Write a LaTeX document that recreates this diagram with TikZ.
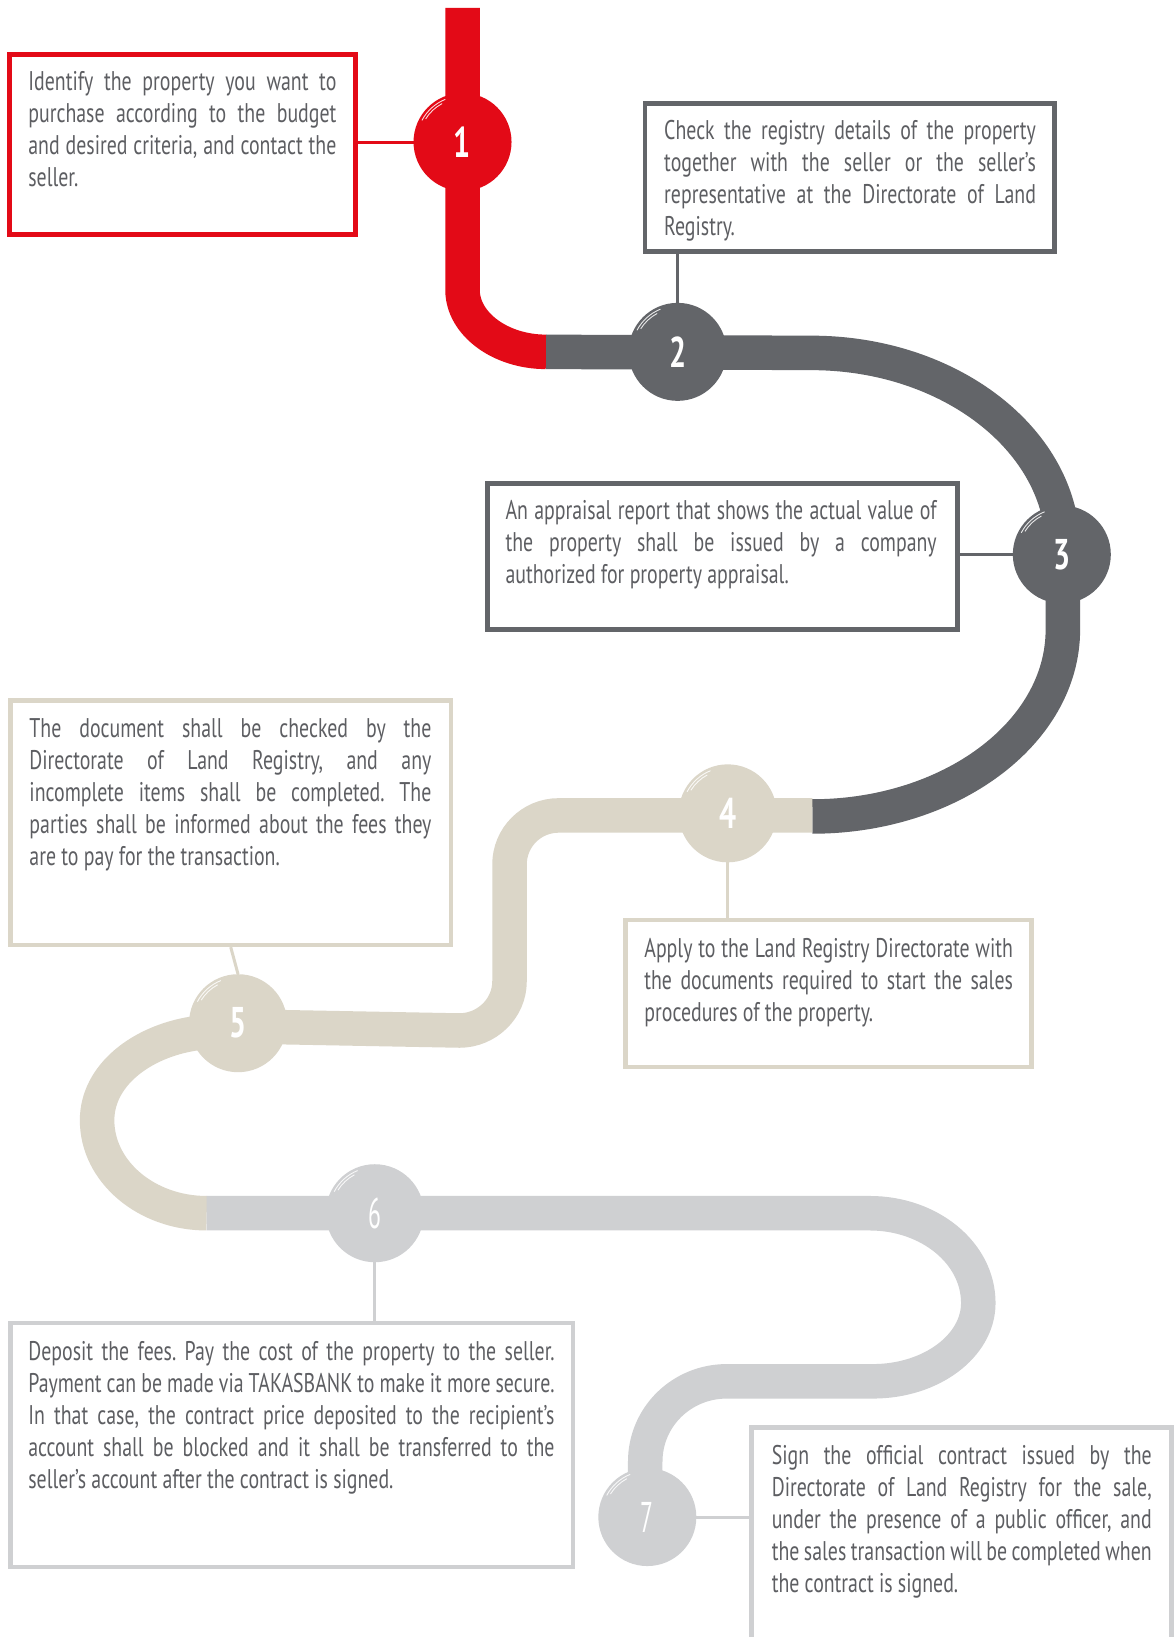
\documentclass[tikz,border=0pt]{standalone}
\usepackage{fontspec}
\setmainfont[FakeStretch=0.735]{PT Sans}
\newfontfamily\numfont[FakeStretch=0.7]{PT Sans}
\newfontfamily\numthin[FakeStretch=0.55]{PT Sans}
\usetikzlibrary{fit}
\definecolor{cred}{HTML}{E30A17}
\definecolor{cdark}{HTML}{636569}
\definecolor{cbeige}{HTML}{DBD6C8}
\definecolor{clight}{HTML}{CFD0D2}
\definecolor{ctext}{HTML}{5D5E62}
\newlength\bw
\newcommand\jl[1]{\makebox[\bw][s]{#1}}
\frenchspacing
\begin{document}
\begin{tikzpicture}[x=1.0441pt,y=-1.0441pt,
  road/.style={line width=34.5pt},
  circ/.style={circle, minimum size=98pt, inner sep=0pt, outer sep=0pt, text=white,
     font=\numfont\bfseries\fontsize{43}{43}\selectfont},
  circthin/.style={circ, font=\numthin\fontsize{43}{43}\selectfont},
  box/.style={draw, line width=4.5pt, fill=white, inner sep=0pt},
  con/.style={line width=3pt},
  brush/.style={white, line width=0.9pt, opacity=0.85},
  txt/.style={anchor=base west, inner sep=0pt, text=ctext,
     font=\fontsize{27}{32}\selectfont},
]
\clip (0,0) rectangle (1126.3,1567.9);
\fill[white] (0,0) rectangle (1126.3,1567.9);

% roads
\draw[road, cred] (443,7.5) -- (443,277.7) .. controls (443,310) and (479,337) .. (523,337);
\draw[road, cdark] (523,337) -- (777,338) .. controls (910,338) and (1018,422) .. (1018,525)
   -- (1018,603) .. controls (1018,702) and (910,782) .. (778,782);
\draw[road, cbeige] (778,781) -- (535,781) .. controls (509,781) and (488,802) .. (488,828)
   -- (488,940) .. controls (488,966) and (466,987) .. (440,987) -- (228,983) -- (185,990)
   .. controls (135,998) and (93,1030) .. (93,1073) .. controls (93,1122) and (140,1162) .. (198,1162);
\draw[road, clight] (198,1162) -- (833,1162) .. controls (890,1162) and (937,1200) .. (937,1248)
   .. controls (937,1289) and (892,1323) .. (836,1323) -- (696,1323)
   .. controls (653,1323) and (618,1357) .. (618,1400) -- (618,1453);

% boxes
\node[box, draw=cred, line width=5pt, fit={(8.7,52) (340.5,224.5)}] (b1) {};
\node[box, draw=cdark, fit={(618,99) (1010,241)}] (b2) {};
\node[box, draw=cdark, fit={(467,463) (917,603)}] (b3) {};
\node[box, draw=cbeige, fit={(599,881) (988,1022)}] (b4) {};
\node[box, draw=cbeige, fit={(10,671) (432,905)}] (b5) {};
\node[box, draw=clight, fit={(10,1267) (549,1501)}] (b6) {};
\node[box, draw=clight, fit={(720,1367) (1122,1620)}] (b7) {};

% circles
\node[circ, fill=cred] (n1) at (443,136) {1};
\node[circ, fill=cdark] (n2) at (649,337) {2};
\node[circ, fill=cdark] (n3) at (1017,531) {3};
\node[circ, fill=cbeige] (n4) at (697,779) {4};
\node[circ, fill=cbeige] (n5) at (228,980) {5};
\node[circthin, fill=clight] (n6) at (359,1162) {6};
\node[circthin, fill=clight] (n7) at (620,1453) {7};

% connectors
\draw[con, cred] (b1.east |- n1.west) -- (n1.west);
\draw[con, cdark] (n2 |- b2.south) -- (n2.north);
\draw[con, cdark] (b3.east |- n3.west) -- (n3.west);
\draw[con, cbeige] (n4.south) -- (n4 |- b4.north);
\draw[con, cbeige] (b5.south) -- (n5.north);
\draw[con, clight] (n6.south) -- (n6 |- b6.north);
\draw[con, clight] (n7.east) -- (b7.west |- n7.east);

% brush marks
\foreach \n in {n1,n2,n3,n4,n5,n6,n7}{
  \draw[brush] ([shift={(152:46pt)}]\n.center) arc[start angle=152, end angle=112, radius=46pt];
  \draw[brush] ([shift={(148:43.5pt)}]\n.center) arc[start angle=148, end angle=118, radius=43.5pt];
}

% texts
\node[txt] (t1) at (27,87) {\setlength\bw{308pt}\begin{tabular}[t]{@{}l@{}}
\jl{Identify the property you want to}\\
\jl{purchase according to the budget}\\
\jl{and desired criteria, and contact the}\\
seller.\end{tabular}};
\node[txt] (t2) at (636,134) {\setlength\bw{371.7pt}\begin{tabular}[t]{@{}l@{}}
\jl{Check the registry details of the property}\\
\jl{together with the seller or the seller’s}\\
\jl{representative at the Directorate of Land}\\
Registry.\end{tabular}};
\node[txt] (t3) at (484,498) {\setlength\bw{431.2pt}\begin{tabular}[t]{@{}l@{}}
\jl{An appraisal report that shows the actual value of}\\
\jl{the property shall be issued by a company}\\
authorized for property appraisal.\end{tabular}};
\node[txt] (t4) at (617,917) {\setlength\bw{368.6pt}\begin{tabular}[t]{@{}l@{}}
\jl{Apply to the Land Registry Directorate with}\\
\jl{the documents required to start the sales}\\
procedures of the property.\end{tabular}};
\node[txt] (t5) at (28,706) {\setlength\bw{402pt}\begin{tabular}[t]{@{}l@{}}
\jl{The document shall be checked by the}\\
\jl{Directorate of Land Registry, and any}\\
\jl{incomplete items shall be completed. The}\\
\jl{parties shall be informed about the fees they}\\
are to pay for the transaction.\end{tabular}};
\node[txt] (t6) at (27,1303) {\setlength\bw{526.2pt}\begin{tabular}[t]{@{}l@{}}
\jl{Deposit the fees. Pay the cost of the property to the seller.}\\
\jl{Payment can be made via TAKASBANK to make it more secure.}\\
\jl{In that case, the contract price deposited to the recipient’s}\\
\jl{account shall be blocked and it shall be transferred to the}\\
seller’s account after the contract is signed.\end{tabular}};
\node[txt] (t7) at (739,1403) {\setlength\bw{380pt}\begin{tabular}[t]{@{}l@{}}
\jl{Sign the official contract issued by the}\\
\jl{Directorate of Land Registry for the sale,}\\
\jl{under the presence of a public officer, and}\\
\jl{the sales transaction will be completed when}\\
the contract is signed.\end{tabular}};
\end{tikzpicture}
\end{document}
